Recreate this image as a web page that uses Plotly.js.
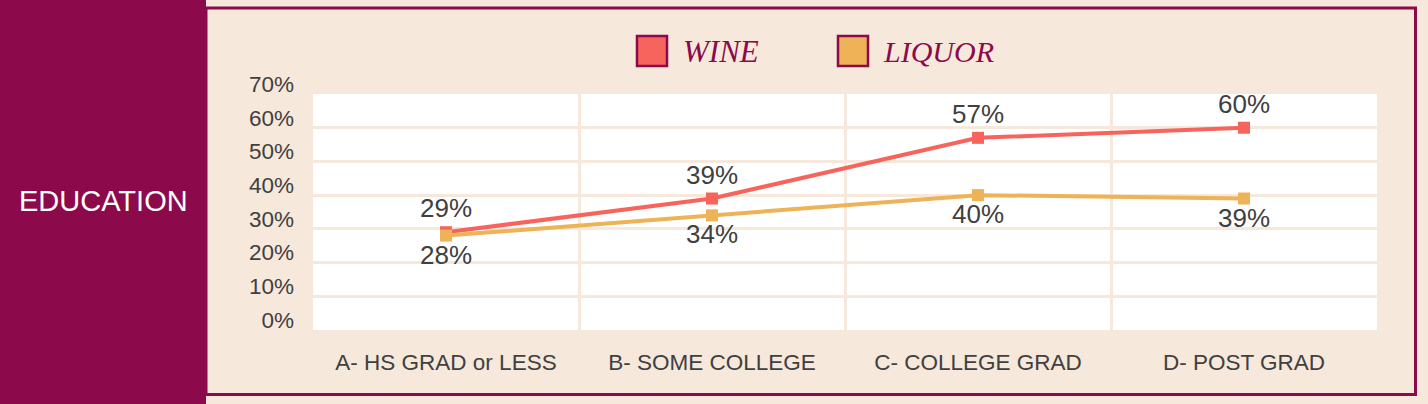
<!DOCTYPE html>
<html>
<head>
<meta charset="utf-8">
<script src="https://cdn.plot.ly/plotly-3.0.1.min.js"></script>
<style>
  html, body { margin: 0; padding: 0; background: #F6E8DA; }
  #chart { width: 1428px; height: 404px; }
</style>
</head>
<body>
<div id="chart"></div>
<script>
// ---- data ----
const categories = ["A- HS GRAD or LESS", "B- SOME COLLEGE", "C- COLLEGE GRAD", "D- POST GRAD"];
const wineValues = [0.29, 0.39, 0.57, 0.60];
const liquorValues = [0.28, 0.34, 0.40, 0.39];
const seriesNames = ["WINE", "LIQUOR"];
const panelLabel = "EDUCATION";
const yTickVals = [0, 0.1, 0.2, 0.3, 0.4, 0.5, 0.6, 0.7];

// ---- style ----
const W = 1428, H = 404;
const M = { l: 313, r: 51, t: 94, b: 74 };
const PW = W - M.l - M.r, PH = H - M.t - M.b;
const px2x = p => (p - M.l) / PW;
const px2y = p => (H - M.b - p) / PH;

const BG = "#F6E8DA";
const MAROON = "#8C0A4B";
const WINE = "#F7645B";
const LIQUOR = "#EEB257";
const TXT = "#404040";
const SANS = "Liberation Sans, Arial, sans-serif";
const SERIF = "Liberation Serif, Times New Roman, serif";

function pct(v) { return Math.round(v * 100) + "%"; }

const traces = [
  {
    x: categories, y: wineValues, name: seriesNames[0], type: "scatter", mode: "lines+markers+text",
    line: { color: WINE, width: 4 }, marker: { color: WINE, symbol: "square", size: 12 },
    text: wineValues.map(pct), textposition: "top center",
    textfont: { family: SANS, size: 26, color: TXT }, cliponaxis: false, showlegend: false, hoverinfo: "skip"
  },
  {
    x: categories, y: liquorValues, name: seriesNames[1], type: "scatter", mode: "lines+markers+text",
    line: { color: LIQUOR, width: 4 }, marker: { color: LIQUOR, symbol: "square", size: 12 },
    text: liquorValues.map(pct), textposition: "bottom center",
    textfont: { family: SANS, size: 26, color: TXT }, cliponaxis: false, showlegend: false, hoverinfo: "skip"
  }
];

const shapes = [
  // left maroon panel
  { type: "rect", xref: "paper", yref: "paper", x0: px2x(0), x1: px2x(206), y0: px2y(404), y1: px2y(0),
    fillcolor: MAROON, line: { width: 0 }, layer: "above" },
  // frame
  { type: "rect", xref: "paper", yref: "paper", x0: px2x(206), x1: px2x(1415.5), y0: px2y(394.5), y1: px2y(8),
    fillcolor: "rgba(0,0,0,0)", line: { color: MAROON, width: 3 }, layer: "above" },
  // legend squares
  { type: "rect", xref: "paper", yref: "paper", x0: px2x(637), x1: px2x(667), y0: px2y(66), y1: px2y(36),
    fillcolor: WINE, line: { color: MAROON, width: 2.5 }, layer: "above" },
  { type: "rect", xref: "paper", yref: "paper", x0: px2x(838), x1: px2x(868), y0: px2y(66), y1: px2y(36),
    fillcolor: LIQUOR, line: { color: MAROON, width: 2.5 }, layer: "above" }
];

const annotations = [
  { text: panelLabel, xref: "paper", yref: "paper", x: px2x(103), y: px2y(201), xanchor: "center", yanchor: "middle",
    showarrow: false, font: { family: SANS, size: 29, color: "#FFFFFF" } },
  { text: "<i>" + seriesNames[0] + "</i>", xref: "paper", yref: "paper", x: px2x(681), y: px2y(51), xanchor: "left", yanchor: "middle",
    showarrow: false, font: { family: SERIF, size: 31, color: MAROON } },
  { text: "<i>" + seriesNames[1] + "</i>", xref: "paper", yref: "paper", x: px2x(881), y: px2y(51), xanchor: "left", yanchor: "middle",
    showarrow: false, font: { family: SERIF, size: 30, color: MAROON } }
];

const layout = {
  width: W, height: H,
  margin: M,
  paper_bgcolor: BG, plot_bgcolor: "#FFFFFF",
  showlegend: false,
  xaxis: {
    type: "category", range: [-0.5, 3.5], tickson: "boundaries", showgrid: true,
    gridcolor: BG, gridwidth: 3, zeroline: false, showline: false, ticks: "",
    tickfont: { family: SANS, size: 22.5, color: TXT }, ticklabelstandoff: 16, fixedrange: true
  },
  yaxis: {
    range: [0, 0.7], tickvals: yTickVals, tickformat: ".0%", showgrid: true,
    gridcolor: BG, gridwidth: 3, zeroline: false, showline: false, ticks: "",
    tickfont: { family: SANS, size: 22.5, color: TXT }, ticklabelstandoff: 18, ticklabelshift: -10, fixedrange: true
  },
  shapes: shapes,
  annotations: annotations
};

Plotly.newPlot("chart", traces, layout, { displayModeBar: false, staticPlot: true });
</script>
</body>
</html>
